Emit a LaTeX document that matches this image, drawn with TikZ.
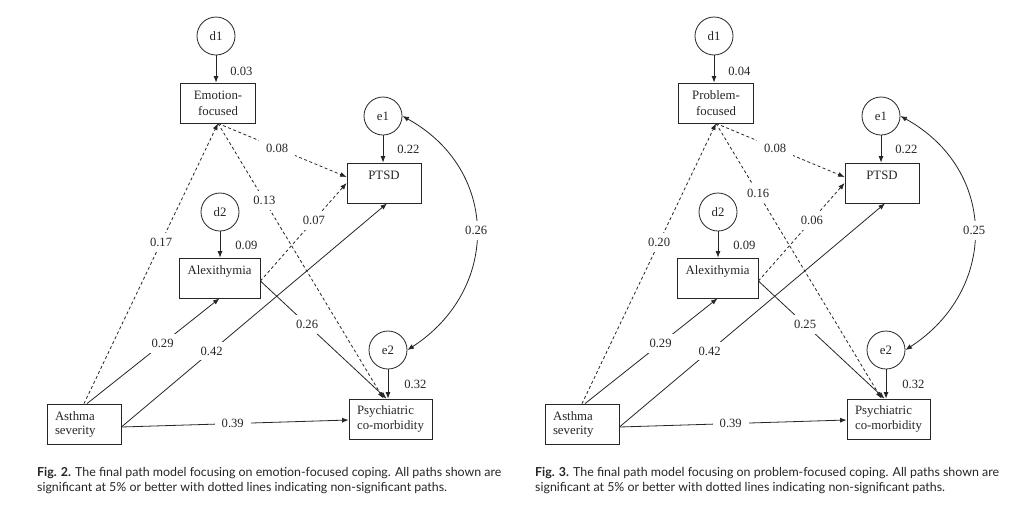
\documentclass[tikz,border=0pt]{standalone}
\usepackage{fontspec}
\setmainfont{Liberation Serif}
\newfontfamily\capfont{Lato}
\usetikzlibrary{arrows.meta}
\tikzset{
  ln/.style={draw=black!85, line width=0.8pt},
  circ/.style={circle, ln, minimum size=38pt, inner sep=0pt, text=black!85, font=\fontsize{12.8}{15}\selectfont},
  box/.style={rectangle, ln, minimum height=40pt, inner sep=2pt, text=black!85, font=\fontsize{12.8}{16}\selectfont, align=center},
  arr/.style={ln, -{Latex[length=6.5pt,width=5pt]}},
  dsh/.style={arr, dash pattern=on 3pt off 2.5pt},
  lbl/.style={fill=white, inner xsep=7pt, inner ysep=5pt, text=black!85, font=\fontsize{12.6}{15}\selectfont},
  side/.style={inner sep=0pt, text=black!85, font=\fontsize{12.6}{15}\selectfont},
  capstyle/.style={inner sep=0pt, anchor=base west, align=left, text=black!85, font=\capfont\fontsize{12.4}{15}\selectfont},
}
\newcommand\pathmodel[9]{%
  \node[circ] (d1) at (216,36) {d1};
  \node[box, minimum width=75pt] (ef) at (218,103) {#1-\\focused};
  \node[circ] (e1) at (383,116) {e1};
  \node[box, minimum width=74pt] (pt) at (384,183) {PTSD\\~};
  \node[circ] (d2) at (220,212) {d2};
  \node[box, minimum width=81pt] (al) at (219.5,278) {Alexithymia\\~};
  \node[circ] (e2) at (388,350) {e2};
  \node[box, align=left, minimum width=83pt, font=\fontsize{12.8}{15}\selectfont] (ps) at (390.5,419) {Psychiatric\\co-morbidity};
  \node[box, align=left, text width=58pt, inner xsep=8pt, font=\fontsize{12.8}{14}\selectfont] (as) at (84,424) {Asthma\\severity};
  % error / disturbance arrows
  \draw[arr] (d1.south) -- (d1.south |- ef.north) node[side, pos=0.6, right=14pt] {#2};
  \draw[arr] (e1.south) -- (e1.south |- pt.north) node[side, pos=0.5, right=14pt] {0.22};
  \draw[arr] (d2.south) -- (d2.south |- al.north) node[side, pos=0.55, right=15pt] {0.09};
  \draw[arr] (e2.south) -- (e2.south |- ps.north) node[side, pos=0.5, right=16pt] {0.32};
  % non-significant paths
  \draw[dsh] (ef.south) -- ([yshift=6pt]pt.west) node[lbl, pos=0.46] {#3};
  \draw[dsh] (as.north) -- (ef.south) node[lbl, pos=0.575] {#4};
  \draw[dsh] (ef.south) -- ([xshift=-7pt]ps.north) node[lbl, pos=#6] {#5};
  \draw[dsh] ([yshift=-3pt]al.east) -- (pt.west) node[lbl, pos=0.62] {#7};
  % significant paths
  \draw[arr] ([xshift=3pt]as.north) -- (al.south) node[lbl, pos=0.57] {0.29};
  \draw[arr] ([yshift=-3pt]as.east) -- ([xshift=3pt]pt.south) node[lbl, pos=0.34] {0.42};
  \draw[arr] ([yshift=-3pt]as.east) -- ([yshift=-1pt]ps.west) node[lbl, pos=0.49] {0.39};
  \draw[arr] ([yshift=-3pt]al.east) -- ([xshift=-4pt]ps.north) node[lbl, pos=0.37] {#9};
  % covariance
  \draw[ln, {Latex[length=6.5pt,width=5pt]}-{Latex[length=6.5pt,width=5pt]}] (e1.east) .. controls (500,170) and (500,290) .. (e2.east) node[lbl, pos=0.5] {#8};
}
\begin{document}
\begin{tikzpicture}[x=1pt, y=-1pt]
  \useasboundingbox (0,0) rectangle (1024,512);
  \fill[white] (0,0) rectangle (1024,512);
  \begin{scope}
    \pathmodel{Emotion}{0.03}{0.08}{0.17}{0.13}{0.28}{0.07}{0.26}{0.26}
  \end{scope}
  \begin{scope}[shift={(498,0)}]
    \pathmodel{Problem}{0.04}{0.08}{0.20}{0.16}{0.255}{0.06}{0.25}{0.25}
  \end{scope}
  \node[capstyle] (cap2) at (37,491) {\textbf{Fig. 2.} The final path model focusing on emotion-focused coping. All paths shown are\\significant at 5\% or better with dotted lines indicating non-significant paths.};
  \node[capstyle] (cap3) at (535,491) {\textbf{Fig. 3.} The final path model focusing on problem-focused coping. All paths shown are\\significant at 5\% or better with dotted lines indicating non-significant paths.};
\end{tikzpicture}
\end{document}
